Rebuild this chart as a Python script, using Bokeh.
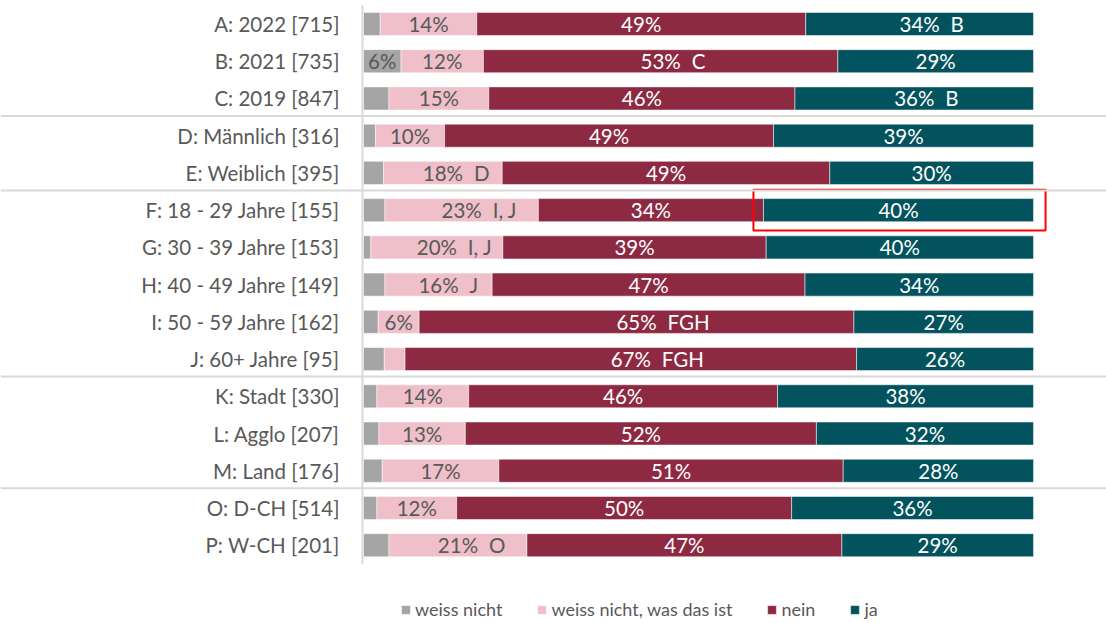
from bokeh.plotting import figure
from bokeh.models import Range1d, Span, Legend, LegendItem, ColumnDataSource
from bokeh.core.properties import value
from bokeh.embed import file_html
from bokeh.resources import INLINE

categories = [
    "A: 2022 [715]", "B: 2021 [735]", "C: 2019 [847]",
    "D: Männlich [316]", "E: Weiblich [395]",
    "F: 18 - 29 Jahre [155]", "G: 30 - 39 Jahre [153]", "H: 40 - 49 Jahre [149]",
    "I: 50 - 59 Jahre [162]", "J: 60+ Jahre [95]",
    "K: Stadt [330]", "L: Agglo [207]", "M: Land [176]",
    "O: D-CH [514]", "P: W-CH [201]",
]
series_names = ["weiss nicht", "weiss nicht, was das ist", "nein", "ja"]

weiss_nicht     = [2.5, 5.6, 3.8, 1.8, 3.0, 3.2, 1.1, 3.2, 2.2, 3.1, 2.0, 2.3, 2.8, 2.0, 3.8]
weiss_nicht_was = [14.4, 12.3, 14.9, 10.3, 17.7, 22.9, 19.7, 16.0, 6.1, 3.1, 13.7, 12.9, 17.4, 11.9, 20.6]
nein            = [49.1, 52.9, 45.7, 49.1, 48.9, 33.6, 39.3, 46.7, 64.9, 67.4, 46.1, 52.4, 51.4, 50.0, 47.0]
ja              = [34.0, 29.2, 35.6, 38.8, 30.4, 40.3, 39.9, 34.1, 26.8, 26.4, 38.2, 32.4, 28.4, 36.1, 28.6]

sig_weiss_nicht     = ["", "A", "", "", "", "", "", "", "", "", "", "", "", "", ""]
sig_weiss_nicht_was = ["", "", "", "", "D", "I, J", "I, J", "J", "", "", "", "", "", "", "O"]
sig_nein            = ["", "C", "", "", "", "", "", "", "FGH", "FGH", "", "", "", "", ""]
sig_ja              = ["B", "", "B", "", "", "", "", "", "", "", "", "", "", "", ""]

separators_after = ["C: 2019 [847]", "E: Weiblich [395]", "J: 60+ Jahre [95]", "M: Land [176]"]
highlight = ("F: 18 - 29 Jahre [155]", "ja")

colors = ["#a5a5a5", "#efbfca", "#8e2942", "#02535d"]
text_colors = ["#595959", "#595959", "white", "white"]
FONT = "Lato"
GRAY = "#595959"

series = [weiss_nicht, weiss_nicht_was, nein, ja]
sigs = [sig_weiss_nicht, sig_weiss_nicht_was, sig_nein, sig_ja]

n = len(categories)
ypos = list(range(n))

p = figure(width=1106, height=620, output_backend="svg", toolbar_location=None,
           x_range=Range1d(-54.179, 110.896), y_range=Range1d(16.022, -0.631),
           min_border=0)
p.axis.visible = False
p.grid.visible = False
p.outline_line_color = None

# separators
for c in separators_after:
    p.add_layout(Span(location=categories.index(c) + 0.47, dimension="width",
                      line_color="#d9d9d9", line_width=2))

# vertical axis line
p.segment(x0=[-0.15], y0=[-0.5], x1=[-0.15], y1=[n - 0.5], line_color="#d9d9d9", line_width=2)

cum = [0.0] * n
renderers = []
for k, (vals, name) in enumerate(zip(series, series_names)):
    left = cum[:]
    right = [l + v for l, v in zip(left, vals)]
    src = ColumnDataSource(dict(y=ypos, left=left, right=right))
    r = p.hbar(y="y", left="left", right="right", height=0.62, source=src,
               fill_color=colors[k], line_color="white", line_width=1, line_alpha=0.5)
    renderers.append(r)
    cx, cy, txt, sx, sy, stxt, soff = [], [], [], [], [], [], []
    for i in range(n):
        if vals[i] >= 5:
            c = (left[i] + right[i]) / 2
            lab = f"{round(vals[i])}%"
            cx.append(c); cy.append(i); txt.append(lab)
            if sigs[k][i]:
                sx.append(c); sy.append(i); stxt.append(sigs[k][i])
                soff.append(10 * len(lab) + 1)
    p.text(x=cx, y=cy, text=txt, text_align="center", text_baseline="middle",
           text_font=value(FONT), text_font_size="20.5px", text_color=text_colors[k])
    if stxt:
        ssrc = ColumnDataSource(dict(x=sx, y=sy, text=stxt, off=soff))
        p.text(x="x", y="y", text="text", x_offset="off", source=ssrc,
               text_align="left", text_baseline="middle",
               text_font=value(FONT), text_font_size="20.5px", text_color=text_colors[k])
    cum = right

# category labels
p.text(x=[0] * n, y=ypos, text=categories, x_offset=-24, text_align="right",
       text_baseline="middle", text_font=value(FONT), text_font_size="20.5px", text_color=GRAY)

# highlight box
hi = categories.index(highlight[0])
hk = series_names.index(highlight[1])
start = sum(series[j][hi] for j in range(hk))
x_l = start - 1.5
x_r = 101.8
p.rect(x=[(x_l + x_r) / 2], y=[hi], width=[x_r - x_l], height=[1.09],
       fill_alpha=0, line_color="#ff0000", line_width=2)

legend = Legend(items=[LegendItem(label=nm, renderers=[r]) for nm, r in zip(series_names, renderers)],
                orientation="horizontal", location=(400, 0),
                glyph_width=11, glyph_height=11, label_standoff=4, spacing=34,
                padding=0, margin=0, border_line_alpha=0, background_fill_alpha=0,
                label_text_font="Lato", label_text_font_size="18px", label_text_color=GRAY)
p.add_layout(legend, "center")

open("out.html", "w").write(file_html(p, INLINE))
